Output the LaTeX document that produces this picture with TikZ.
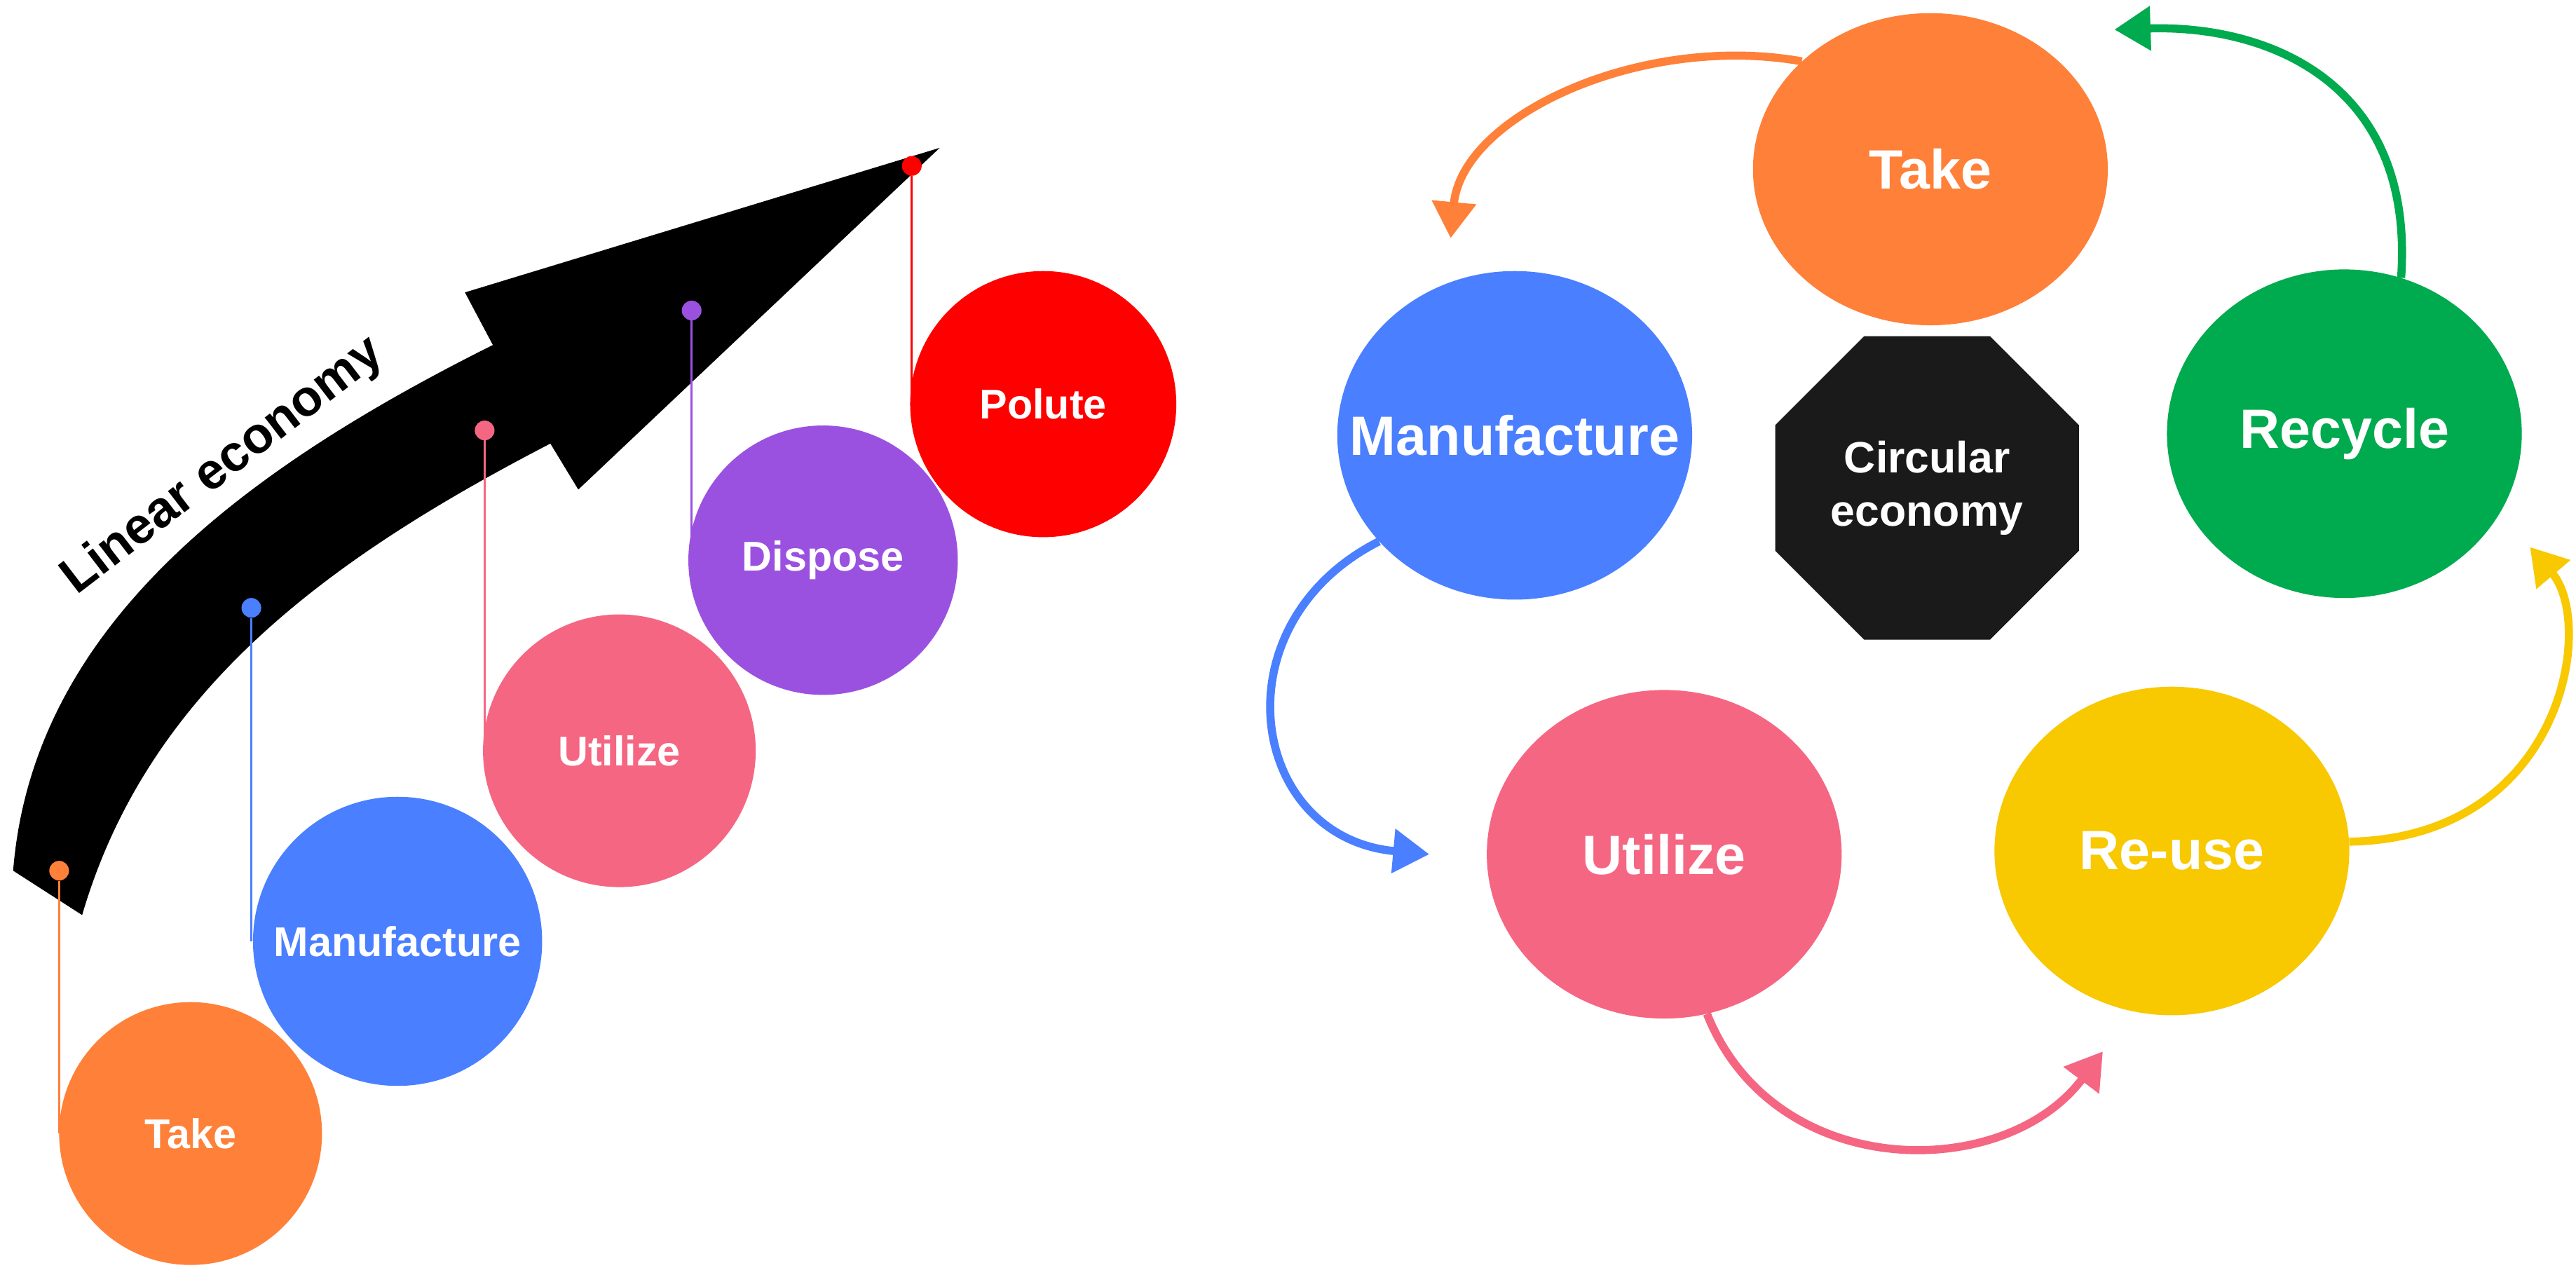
\documentclass[tikz,border=0pt]{standalone}
\usepackage{fontspec}
\setmainfont{Liberation Sans}
\usetikzlibrary{shapes.geometric,arrows.meta}
\definecolor{cOr}{HTML}{FF8038}
\definecolor{cBl}{HTML}{4A7FFF}
\definecolor{cPk}{HTML}{F56682}
\definecolor{cPu}{HTML}{9B51E0}
\definecolor{cRd}{HTML}{FF0000}
\definecolor{cGr}{HTML}{00AA4E}
\definecolor{cYe}{HTML}{F8C800}
\definecolor{cBk}{HTML}{1A1A1A}
\begin{document}
\begin{tikzpicture}[x=0.05cm,y=-0.05cm,
  lc/.style={circle,inner sep=0pt,text=white,font=\fontsize{36}{40}\selectfont\bfseries},
  rc/.style={ellipse,inner sep=0pt,minimum width=10.8cm,minimum height=10cm},
  rt/.style={text=white,font=\fontsize{48}{54}\selectfont\bfseries},
  pin/.style={line width=2pt},
  dot/.style={circle,inner sep=0pt,minimum size=0.6cm},
  carr/.style={line width=7pt,-{Triangle[length=1.1cm,width=1.3cm]}}]
\useasboundingbox (0,0) rectangle (1568,780);
% big arrow
\fill[black] (50,557) .. controls (90,420) and (200,340) .. (335,270) -- (352,298) -- (572,90) -- (283,178) -- (300,210) .. controls (150,285) and (20,380) .. (8,530) -- cycle;
\node[rotate=37.5,font=\fontsize{44}{50}\selectfont\bfseries] (lin) at (136,284) {Linear economy};
% left circles
\node[lc,fill=cOr,minimum size=8cm] (ta) at (116,690) {Take};
\node[lc,fill=cBl,minimum size=8.8cm] (ma) at (242,573) {Manufacture};
\node[lc,fill=cPk,minimum size=8.3cm] (ut) at (377,457) {Utilize};
\node[lc,fill=cPu,minimum size=8.2cm] (di) at (501,341) {Dispose};
\node[lc,fill=cRd,minimum size=8.1cm] (po) at (635,246) {Polute};
\node[dot,fill=cOr] (d1) at (36,530) {};
\node[dot,fill=cBl] (d2) at (153,370) {};
\node[dot,fill=cPk] (d3) at (295,262) {};
\node[dot,fill=cPu] (d4) at (421,189) {};
\node[dot,fill=cRd] (d5) at (555,101) {};
\draw[pin,cOr] (d1) -- (d1 |- ta);
\draw[pin,cBl] (d2) -- (d2 |- ma);
\draw[pin,cPk] (d3) -- (d3 |- ut);
\draw[pin,cPu] (d4) -- (d4 |- di);
\draw[pin,cRd] (d5) -- (d5 |- po);
% right
\node[rc,fill=cOr,minimum height=9.5cm] (rt) at (1175,103) {};
\node[rt] at (rt) {Take};
\node[rc,fill=cBl] (rm) at (922,265) {};
\node[rt] at (rm) {Manufacture};
\node[rc,fill=cGr] (rr) at (1427,264) {};
\node[rt] at (rr) {Recycle};
\node[rc,fill=cPk] (ru) at (1013,520) {};
\node[rt] at (ru) {Utilize};
\node[rc,fill=cYe] (re) at (1322,518) {};
\node[rt] at (re) {Re-use};
\node[regular polygon,regular polygon sides=8,fill=cBk,minimum size=10cm,inner sep=0pt] (oc) at (1173,297) {};
\node[text=white,align=center,font=\fontsize{38}{46}\selectfont\bfseries] at (oc) {Circular\\economy};
\coordinate (a1) at (883,145); \coordinate (a2) at (1287,18);
\coordinate (a3) at (870,520); \coordinate (a4) at (1280,640);
\coordinate (a5) at (1540,333);
\draw[carr,cOr] (rt.140) .. controls (1000,20) and (890,70) .. (a1);
\draw[carr,cGr] (rr.70) .. controls (1470,50) and (1380,15) .. (a2);
\draw[carr,cBl] (rm.218) .. controls (740,380) and (760,510) .. (a3);
\draw[carr,cPk] (ru.285) .. controls (1080,720) and (1220,720) .. (a4);
\draw[carr,cYe] (re.3) .. controls (1560,510) and (1580,380) .. (a5);
\end{tikzpicture}
\end{document}
